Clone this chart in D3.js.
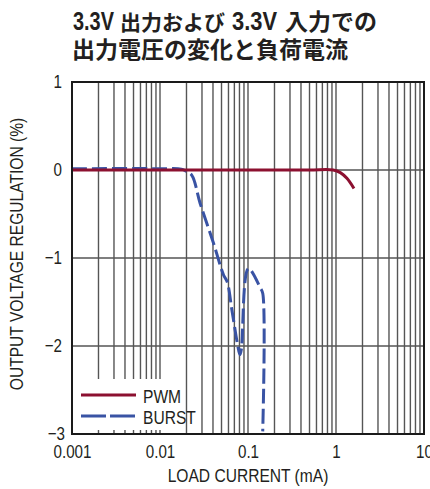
<!DOCTYPE html>
<html>
<head>
<meta charset="utf-8">
<script src="https://cdn.jsdelivr.net/npm/d3@7"></script>
<style>
  body { margin: 0; background: #fff; }
  svg { display: block; }
</style>
</head>
<body>
<svg id="chart"></svg>
<script>
// load current (mA) and regulation (%)
var pwmCurrent = [0.001, 0.01, 0.1, 0.5, 0.93, 1.12, 1.33, 1.6];
var pwmReg = [0, 0, 0, 0, 0, -0.03, -0.095, -0.21];

var burstCurrent = [0.001, 0.01, 0.0175, 0.0195, 0.023, 0.0286, 0.0405, 0.0526, 0.058, 0.0656, 0.076, 0.081, 0.084, 0.101, 0.138, 0.147, 0.147];
var burstReg = [0.015, 0.015, 0.01, -0.01, -0.06, -0.38, -0.83, -1.19, -1.27, -1.59, -1.98, -2.1, -2.04, -1.12, -1.34, -1.4, -2.97];

var xTicks = [0.001, 0.01, 0.1, 1, 10];
var xTickLabels = ["0.001", "0.01", "0.1", "1", "10"];
var yTicks = [1, 0, -1, -2, -3];
var yTickLabels = ["1", "0", "\u22121", "\u22122", "\u22123"];

var seriesNames = ["PWM", "BURST"];

var dimensions = {
  width: 430,
  height: 489,
  margin: { top: 82, right: 6, bottom: 55, left: 72 },
};
dimensions.boundedWidth = dimensions.width - dimensions.margin.left - dimensions.margin.right;
dimensions.boundedHeight = dimensions.height - dimensions.margin.top - dimensions.margin.bottom;

// no condensed face installed, so squeeze Liberation Sans with textLength
var font = "'Liberation Sans', Arial, sans-serif";
var cjk = "'Noto Sans CJK JP', sans-serif";
var squeeze = 0.82;
var ink = "#231f20";
var red = "#8c1030";
var blue = "#3953a4";

function condense(selection, factor) {
  selection.each(function () {
    var w = this.getComputedTextLength();
    d3.select(this)
      .attr("textLength", w * (factor || squeeze))
      .attr("lengthAdjust", "spacingAndGlyphs");
  });
}

var svg = d3.select("#chart")
  .attr("width", dimensions.width)
  .attr("height", dimensions.height);

// title: first line is one text, with tspans so the condensed "3.3V" can sit tight
var titleBits = [
  { text: "3.3V", x: 73, latin: true, w: 41 },
  { text: "出力および", x: 120, size: 21 },
  { text: "3.3V", x: 232, latin: true, w: 45 },
  { text: "入力での", x: 285, size: 23 },
];
var title1 = svg.append("text")
  .attr("y", 30)
  .attr("font-weight", "bold")
  .attr("fill", ink);
titleBits.forEach(function (b) {
  var t = title1.append("tspan")
    .attr("x", b.x)
    .attr("font-family", b.latin ? font : cjk)
    .attr("font-size", b.latin ? 25 : b.size)
    .text(b.text);
  if (b.latin) t.attr("textLength", b.w).attr("lengthAdjust", "spacingAndGlyphs");
});
svg.append("text")
  .attr("x", 72)
  .attr("y", 58)
  .attr("font-family", cjk)
  .attr("font-weight", "bold")
  .attr("font-size", 23)
  .attr("fill", ink)
  .text("出力電圧の変化と負荷電流");

var xScale = d3.scaleLog()
  .domain([0.001, 10])
  .range([0, dimensions.boundedWidth]);

var yScale = d3.scaleLinear()
  .domain([-3, 1])
  .range([dimensions.boundedHeight, 0]);

var bounds = svg.append("g")
  .attr("transform", "translate(" + dimensions.margin.left + "," + dimensions.margin.top + ")");

// vertical grid (every minor decade step)
var gridX = [];
for (var e = -3; e < 1; e++) {
  for (var m = 2; m <= 9; m++) gridX.push(m * Math.pow(10, e));
}
gridX = gridX.concat([0.01, 0.1, 1]);

bounds.append("g")
  .selectAll("line")
  .data(gridX)
  .enter()
  .append("line")
  .attr("x1", function (d) { return xScale(d); })
  .attr("x2", function (d) { return xScale(d); })
  .attr("y1", 0)
  .attr("y2", dimensions.boundedHeight)
  .attr("stroke", "#555")
  .attr("stroke-width", 1.4);

bounds.append("g")
  .selectAll("line")
  .data([0, -1, -2])
  .enter()
  .append("line")
  .attr("x1", 0)
  .attr("x2", dimensions.boundedWidth)
  .attr("y1", function (d) { return yScale(d); })
  .attr("y2", function (d) { return yScale(d); })
  .attr("stroke", "#555")
  .attr("stroke-width", 1.4);

// legend background knocks out the grid, leaving short stubs at the bottom
bounds.append("rect")
  .attr("x", 0)
  .attr("y", 297)
  .attr("width", 103)
  .attr("height", dimensions.boundedHeight - 297 - 4)
  .attr("fill", "#fff");

var line = d3.line()
  .x(function (d) { return xScale(d[0]); })
  .y(function (d) { return yScale(d[1]); })
  .curve(d3.curveCatmullRom.alpha(0.5));

bounds.append("path")
  .datum(d3.zip(burstCurrent, burstReg))
  .attr("d", line)
  .attr("fill", "none")
  .attr("stroke", blue)
  .attr("stroke-width", 3)
  .attr("stroke-dasharray", "15,5");

bounds.append("path")
  .datum(d3.zip(pwmCurrent, pwmReg))
  .attr("d", line)
  .attr("fill", "none")
  .attr("stroke", red)
  .attr("stroke-width", 3);

// frame
bounds.append("rect")
  .attr("width", dimensions.boundedWidth)
  .attr("height", dimensions.boundedHeight)
  .attr("fill", "none")
  .attr("stroke", "#1a1a1a")
  .attr("stroke-width", 2);

// legend
var legend = bounds.append("g").attr("transform", "translate(9,313)");
var legendColors = [red, blue];
var legendDash = [null, "25,4"];
seriesNames.forEach(function (name, i) {
  legend.append("line")
    .attr("x1", 0).attr("x2", 55)
    .attr("y1", i * 21).attr("y2", i * 21)
    .attr("stroke", legendColors[i])
    .attr("stroke-width", 3)
    .attr("stroke-dasharray", legendDash[i]);
  legend.append("text")
    .attr("x", 62)
    .attr("y", i * 21 + 8)
    .attr("font-family", font)
    .attr("font-size", 19)
    .attr("fill", ink)
    .text(name)
    .call(condense);
});

// axes
var xAxis = d3.axisBottom(xScale)
  .tickValues(xTicks)
  .tickFormat(function (d, i) { return xTickLabels[i]; })
  .tickSize(0)
  .tickPadding(11);

bounds.append("g")
  .attr("transform", "translate(0," + dimensions.boundedHeight + ")")
  .call(xAxis)
  .call(function (g) { g.select(".domain").remove(); })
  .selectAll("text")
  .attr("font-family", font)
  .attr("font-size", 18.5)
  .attr("fill", ink)
  .call(condense);

var yAxis = d3.axisLeft(yScale)
  .tickValues(yTicks)
  .tickFormat(function (d, i) { return yTickLabels[i]; })
  .tickSize(0)
  .tickPadding(10);

bounds.append("g")
  .call(yAxis)
  .call(function (g) { g.select(".domain").remove(); })
  .selectAll("text")
  .attr("font-family", font)
  .attr("font-size", 18.5)
  .attr("fill", ink)
  .attr("x", function (d) { return d === -3 ? -7 : -10; }) // -3 sits in a bit, clear of 0.001
  .call(condense);

svg.append("text")
  .attr("x", dimensions.margin.left + xScale(0.1))
  .attr("y", 482)
  .attr("text-anchor", "middle")
  .attr("font-family", font)
  .attr("font-size", 19)
  .attr("fill", ink)
  .text("LOAD CURRENT (mA)")
  .call(condense);

svg.append("text")
  .attr("transform", "translate(23," + (dimensions.margin.top + dimensions.boundedHeight / 2 - 4) + ") rotate(-90)")
  .attr("text-anchor", "middle")
  .attr("font-family", font)
  .attr("font-size", 19)
  .attr("fill", ink)
  .text("OUTPUT VOLTAGE REGULATION (%)")
  .call(condense);
</script>
</body>
</html>
